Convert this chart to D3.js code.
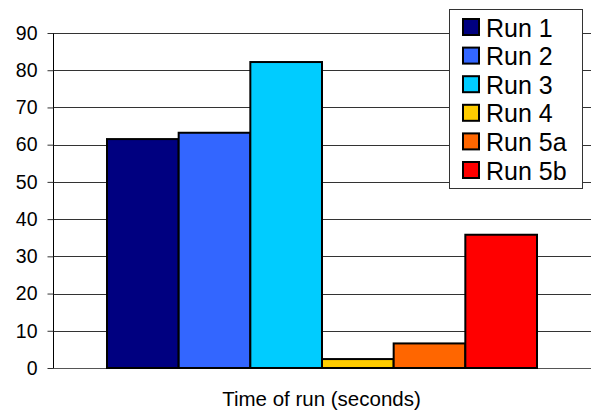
<!DOCTYPE html>
<html><head><meta charset="utf-8">
<script src="https://cdn.jsdelivr.net/npm/d3@7"></script>
<style>body{margin:0;background:#fff;} svg{display:block;font-family:"Liberation Sans",Arial,sans-serif;}</style>
</head><body>
<svg id="c" width="591" height="411"></svg>
<script>
const categories = ["Run 1","Run 2","Run 3","Run 4","Run 5a","Run 5b"];
const values = [61.5, 63.2, 82.2, 2.4, 6.6, 35.8];
const colors = ["#000080","#3366FF","#00CCFF","#FFCC00","#FF6600","#FF0000"];
const yTicks = [0,10,20,30,40,50,60,70,80,90];
const xLabel = "Time of run (seconds)";

(function(){
const svg = d3.select("#c");
const pL = 53, pR = 591, pT = 33, pB = 368;
const y = d3.scaleLinear().domain([0,90]).range([pB, pT]);
const x = d3.scaleBand().domain(categories).range([pL + 54, pR - 54]).padding(0);

// gridlines
svg.append("g").selectAll("line").data(yTicks).join("line")
  .attr("x1", pL).attr("x2", pR)
  .attr("y1", d => Math.round(y(d)) + 0.5).attr("y2", d => Math.round(y(d)) + 0.5)
  .attr("stroke", d => d === 0 ? "#555" : "#333").attr("stroke-width", 1);

// y axis
const yAxis = d3.axisLeft(y).tickValues(yTicks).tickSize(6).tickPadding(10);
const ga = svg.append("g").attr("transform", `translate(${pL + 0.5},0)`).call(yAxis);
ga.select(".domain").attr("d", `M0,${pT}V${pB}`).attr("stroke", "#000");
ga.selectAll(".tick line").attr("stroke", "#333");
ga.selectAll(".tick text").attr("font-size", 19.5).attr("fill", "#000")
  .attr("font-family", "'Liberation Sans',Arial,sans-serif");

// bars
svg.append("g").selectAll("rect").data(categories).join("rect")
  .attr("x", d => x(d)).attr("width", x.bandwidth())
  .attr("y", (d,i) => y(values[i])).attr("height", (d,i) => y(0) - y(values[i]))
  .attr("fill", (d,i) => colors[i]).attr("stroke", "#000").attr("stroke-width", 2);

// x label
svg.append("text").attr("x", 321.5).attr("y", 406)
  .attr("text-anchor", "middle").attr("font-size", 20.5).text(xLabel);

// legend
const lg = svg.append("g");
lg.append("rect").attr("x", 449.5).attr("y", 9.5).attr("width", 133).attr("height", 179)
  .attr("fill", "#fff").attr("stroke", "#333").attr("stroke-width", 1);
const ly = d3.scalePoint().domain(categories).range([27.5, 170.5]);
const items = lg.selectAll("g").data(categories).join("g")
  .attr("transform", d => `translate(0,${ly(d)})`);
items.append("rect").attr("x", 463).attr("y", -8.5).attr("width", 16).attr("height", 16)
  .attr("fill", (d,i) => colors[i]).attr("stroke", "#000").attr("stroke-width", 2);
items.append("text").attr("x", 486).attr("y", 9).attr("font-size", 25).text(d => d);
})();
</script>
</body></html>
